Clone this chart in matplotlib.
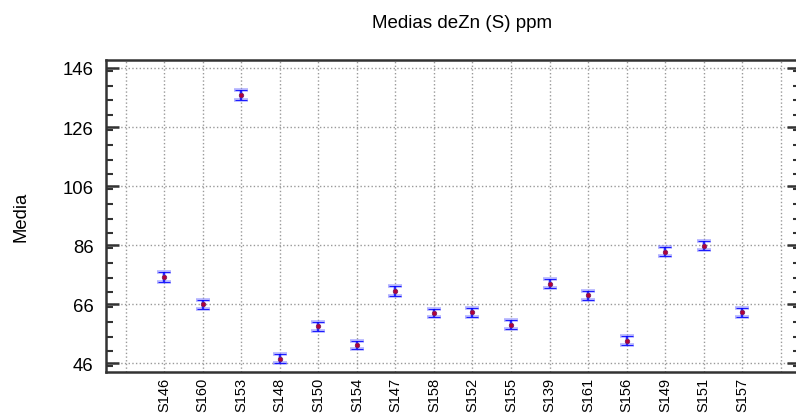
import matplotlib
matplotlib.use('Agg')
import matplotlib.pyplot as plt
import numpy as np
from matplotlib.ticker import MultipleLocator

plt.rcParams['font.family'] = ['Liberation Sans', 'DejaVu Sans']

# datos
muestras = ['S146', 'S160', 'S153', 'S148', 'S150', 'S154', 'S147', 'S158',
            'S152', 'S155', 'S139', 'S161', 'S156', 'S149', 'S151', 'S157']
medias = [75.2, 66.0, 136.9, 47.6, 58.5, 52.1, 70.5, 63.0,
          63.3, 59.1, 72.9, 69.0, 53.7, 83.8, 85.8, 63.3]
errores = [1.7, 1.5, 1.6, 1.5, 1.4, 1.4, 1.6, 1.4,
           1.5, 1.4, 1.5, 1.5, 1.6, 1.6, 1.6, 1.5]
y_ticks = [46, 66, 86, 106, 126, 146]


def plot_medias():
    W, H = 796, 414
    fig = plt.figure(figsize=(W / 100, H / 100), dpi=100)
    # el eje derecho queda justo fuera de la imagen, como en el original
    x0, x1, y0, y1 = 106, 800, 373.3, 60.7
    ax = fig.add_axes([x0 / W, 1 - y0 / H, (x1 - x0) / W, (y0 - y1) / H])

    x = np.arange(1, len(muestras) + 1)
    # halo azul claro + barra azul
    ax.errorbar(x, medias, yerr=errores, fmt='none', ecolor='#8080ff',
                elinewidth=2.6, capsize=4.8, capthick=2.6, zorder=2, alpha=0.6)
    ax.errorbar(x, medias, yerr=errores, fmt='o', color='blue', ecolor='blue',
                elinewidth=1.1, capsize=4.5, capthick=1.1, markersize=3.2,
                markerfacecolor='#b0003a', markeredgecolor='#802060',
                markeredgewidth=0.6, zorder=3)

    ax.set_xlim(-0.51, 17.5)
    ax.set_ylim(42.95, 148.8)

    # ticks x: grid en 0..17, etiquetas solo en 1..16
    ax.set_xticks(np.arange(0, len(muestras) + 2))
    ax.set_xticklabels([''] + muestras + [''], rotation=90, fontsize=10.5)
    ax.tick_params(axis='x', length=0, pad=3.5)

    ax.set_yticks(y_ticks)
    ax.yaxis.set_minor_locator(MultipleLocator(5))
    ax.tick_params(axis='y', which='major', direction='in', length=9.5, width=1.8,
                   right=True, labelsize=13.3, pad=9, color='#333333')
    ax.tick_params(axis='y', which='minor', direction='in', length=5, width=1.5,
                   right=True, color='#333333')

    ax.grid(True, which='major', color='#999999', linestyle=':', linewidth=1)
    ax.set_axisbelow(True)

    for side in ['left', 'bottom', 'top', 'right']:
        ax.spines[side].set_linewidth(1.8)
        ax.spines[side].set_color('#333333')

    fig.text(21 / W, 1 - 217 / H, 'Media', rotation=90, ha='center', va='center',
             fontsize=13.3)
    fig.text(462.5 / W, 1 - 27.5 / H, 'Medias deZn (S) ppm', ha='center',
             va='baseline', fontsize=13.5)

    fig.savefig('out.png', dpi=100)


if __name__ == '__main__':
    plot_medias()
